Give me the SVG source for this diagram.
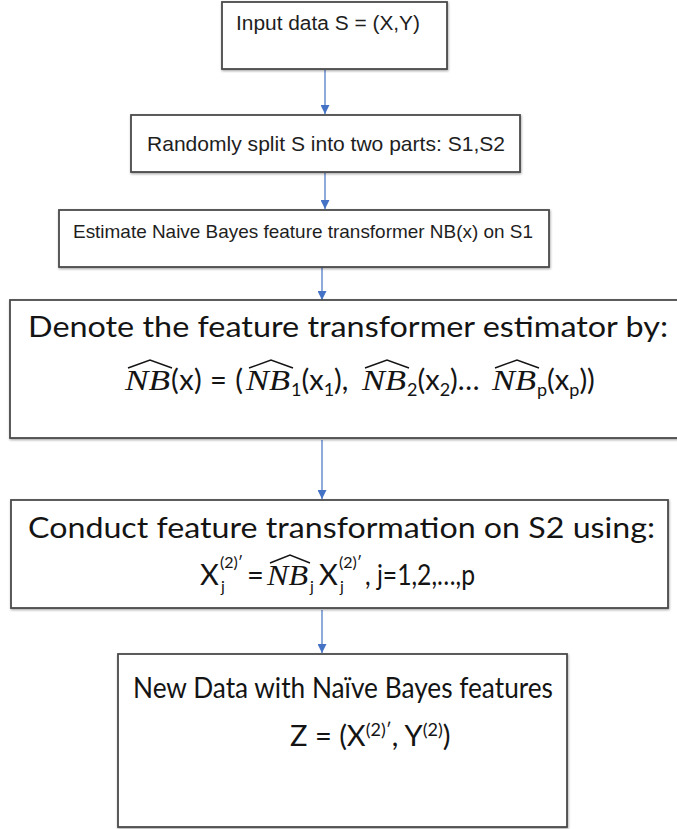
<svg xmlns="http://www.w3.org/2000/svg" width="677" height="829" viewBox="0 0 677 829">
  <defs>
    <marker id="arrowhead" viewBox="0 0 10 10" refX="10" refY="5" markerWidth="9" markerHeight="9" markerUnits="userSpaceOnUse" orient="auto">
      <path d="M0,0 L10,5 L0,10 z" fill="#4472c4"/>
    </marker>
    <filter id="shadow" x="-5%" y="-5%" width="110%" height="115%">
      <feDropShadow dx="0.6" dy="1.2" stdDeviation="0.8" flood-color="#000" flood-opacity="0.35"/>
    </filter>
  </defs>
  <style>
    .box { fill: #ffffff; stroke: #4a4a4a; stroke-width: 1.8; filter: url(#shadow); }
    .arial { font-family: "Liberation Sans", Arial, sans-serif; fill: #1e1e1e; }
    .cal { font-family: Lato, "Noto Sans", sans-serif; fill: #141414; font-size: 29px; }
    .mi { font-family: "Liberation Serif", "DejaVu Serif", serif; font-style: italic; fill: #141414; font-size: 30px; }
    .sm { font-size: 18px; }
    .xs { font-size: 16px; }
    .hat { fill: none; stroke: #141414; stroke-width: 1.5; stroke-linejoin: miter; }
    .conn { stroke: #4472c4; stroke-width: 1.2; fill: none; marker-end: url(#arrowhead); }
  </style>
  <rect width="677" height="829" fill="#ffffff"/>

  <!-- connectors -->
  <g id="connectors">
    <line class="conn" x1="325" y1="70" x2="325" y2="114"/>
    <line class="conn" x1="325" y1="173" x2="325" y2="209"/>
    <line class="conn" x1="322" y1="267" x2="322" y2="300"/>
    <line class="conn" x1="322" y1="440" x2="322" y2="499"/>
    <line class="conn" x1="322" y1="610" x2="322" y2="653"/>
  </g>

  <g id="input">
    <rect class="box" x="222" y="2" width="225" height="67"/>
    <text class="arial" x="236" y="30" font-size="20" textLength="184" lengthAdjust="spacingAndGlyphs">Input data S = (X,Y)</text>
  </g>

  <g id="split">
    <rect class="box" x="131" y="115" width="389" height="57"/>
    <text class="arial" x="147" y="151" font-size="21" textLength="358" lengthAdjust="spacingAndGlyphs">Randomly split S into two parts: S1,S2</text>
  </g>

  <g id="estimate">
    <rect class="box" x="59" y="210" width="490" height="57"/>
    <text class="arial" x="73" y="238" font-size="19" textLength="460" lengthAdjust="spacingAndGlyphs">Estimate Naive Bayes feature transformer NB(x) on S1</text>
  </g>

  <g id="denote">
    <rect class="box" x="10" y="300" width="680" height="138"/>
    <text class="cal" x="28" y="337" font-size="28" textLength="640" lengthAdjust="spacingAndGlyphs">Denote the feature transformer estimator by:</text>
    <!-- estimator formula: hatted NB terms with subscripts -->
    <text class="mi" x="125" y="390" textLength="45" lengthAdjust="spacingAndGlyphs">NB</text>
    <text class="cal" x="171" y="390" textLength="72" lengthAdjust="spacing">(x) = (</text>
    <text class="mi" x="246" y="390" textLength="44" lengthAdjust="spacingAndGlyphs">NB</text>
    <text class="cal" x="291" y="390"><tspan class="sm" dy="6">1</tspan><tspan dy="-6">(x</tspan><tspan class="sm" dy="6">1</tspan><tspan dy="-6">),</tspan></text>
    <text class="mi" x="362" y="390" textLength="44" lengthAdjust="spacingAndGlyphs">NB</text>
    <text class="cal" x="407" y="390"><tspan class="sm" dy="6">2</tspan><tspan dy="-6">(x</tspan><tspan class="sm" dy="6">2</tspan><tspan dy="-6">)…</tspan></text>
    <text class="mi" x="492" y="390" textLength="44" lengthAdjust="spacingAndGlyphs">NB</text>
    <text class="cal" x="537" y="390"><tspan class="sm" dy="6">p</tspan><tspan dy="-6">(x</tspan><tspan class="sm" dy="6">p</tspan><tspan dy="-6">))</tspan></text>
    <path class="hat" d="M128,368 L150,360 L172,368"/>
    <path class="hat" d="M249,368 L271,360 L293,368"/>
    <path class="hat" d="M365,368 L387,360 L409,368"/>
    <path class="hat" d="M495,368 L517,360 L539,368"/>
  </g>

  <g id="transform">
    <rect class="box" x="11" y="500" width="657" height="108"/>
    <text class="cal" x="28" y="538" font-size="28" textLength="627" lengthAdjust="spacingAndGlyphs">Conduct feature transformation on S2 using:</text>
    <!-- transformed feature formula -->
    <text class="cal" x="200" y="585">X</text>
    <text class="cal xs" x="221" y="592">j</text>
    <text class="cal xs" x="220" y="568">(2)′</text>
    <text class="cal" x="247" y="585">=</text>
    <text class="mi" x="267" y="585" textLength="41" lengthAdjust="spacingAndGlyphs">NB</text>
    <path class="hat" d="M270,563 L290,555 L310,563"/>
    <text class="cal xs" x="310" y="592">j</text>
    <text class="cal" x="319" y="585">X</text>
    <text class="cal xs" x="340" y="592">j</text>
    <text class="cal xs" x="339" y="568">(2)′</text>
    <text class="cal" x="365" y="585" textLength="110" lengthAdjust="spacingAndGlyphs">, j=1,2,…,p</text>
  </g>

  <g id="result">
    <rect class="box" x="118" y="654" width="449" height="173"/>
    <text class="cal" x="133" y="698" font-size="28" textLength="420" lengthAdjust="spacingAndGlyphs">New Data with Naïve Bayes features</text>
    <text class="cal" x="290" y="746">Z = (X<tspan class="sm" dy="-10">(2)′</tspan><tspan dy="10">, Y</tspan><tspan class="sm" dy="-10">(2)</tspan><tspan dy="10">)</tspan></text>
  </g>
</svg>
